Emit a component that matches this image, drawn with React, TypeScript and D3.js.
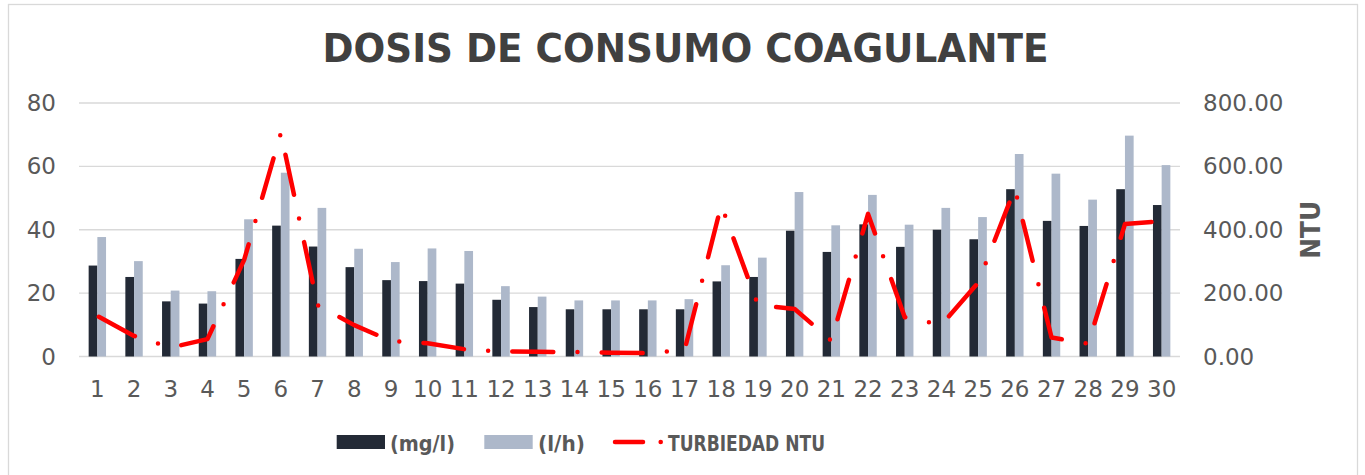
import React from "react";
import * as d3 from "d3";

const categories = Array.from({ length: 30 }, (_, i) => String(i + 1));
const mgL = [28.7, 25.1, 17.4, 16.7, 30.8, 41.3, 34.7, 28.2, 24.1, 23.8, 23.0, 17.9, 15.6, 14.9, 14.9, 14.9, 14.9, 23.7, 25.1, 39.7, 33.0, 41.7, 34.6, 40.0, 37.0, 52.8, 42.8, 41.2, 52.8, 47.8];
const lH = [37.7, 30.1, 20.8, 20.6, 43.3, 58.0, 46.9, 34.0, 29.8, 34.1, 33.3, 22.2, 18.9, 17.7, 17.7, 17.7, 18.1, 28.8, 31.2, 51.9, 41.4, 51.0, 41.6, 46.9, 44.0, 63.9, 57.7, 49.5, 69.7, 60.4];
const turbiedad = [128, 65, 28, 55, 305, 705, 162, 99, 49, 42, 23, 16, 15, 14, 12, 11, 20, 478, 162, 150, 50, 450, 124, 100, 233, 530, 60, 40, 418, 427];
const leftTicks = [0, 20, 40, 60, 80];
const rightTicks = [0, 200, 400, 600, 800];
const seriesNames = ["(mg/l)", "(l/h)", "TURBIEDAD NTU"];

const W = 1365;
const H = 475;
const plot = { left: 79, right: 1180, top: 103, bottom: 356.5 };
const DARK = "#232a36";
const LIGHT = "#adb8ca";
const RED = "#ff0000";
const GRID = "#d9d9d9";
const TEXT = "#595959";
const FONT = "'DejaVu Sans', Verdana, sans-serif";

export default function App() {
  const p = 0.526;
  const x = d3.scaleBand<string>().domain(categories).range([plot.left, plot.right]).paddingInner(p).paddingOuter(p / 2);
  const x1 = d3.scaleBand<string>().domain(["a", "b"]).range([0, x.bandwidth()]);
  const yL = d3.scaleLinear().domain([0, 80]).range([plot.bottom, plot.top]);
  const yR = d3.scaleLinear().domain([0, 800]).range([plot.bottom, plot.top]);
  const cx = (c: string) => (x(c) as number) + x.bandwidth() / 2;
  const linePath = d3.line<number>().x((_, i) => cx(categories[i])).y((d) => yR(d))(turbiedad) as string;
  const dash = "41 24.2 0 24.2";

  return (
    <svg width={W} height={H} style={{ position: "absolute", left: 0, top: 0, background: "#fff" }} fontFamily={FONT}>
      <rect x={8.5} y={4.5} width={1349} height={500} fill="#fff" stroke={GRID} strokeWidth={1.3} />
      <text x={685.5} y={62} textAnchor="middle" fontSize={39} fontWeight="bold" fill="#404040" textLength={726} lengthAdjust="spacingAndGlyphs">
        DOSIS DE CONSUMO COAGULANTE
      </text>
      {leftTicks.map((t) => (
        <line key={"g" + t} x1={plot.left} x2={plot.right} y1={yL(t)} y2={yL(t)} stroke={GRID} strokeWidth={1.3} />
      ))}
      {leftTicks.map((t) => (
        <text key={"l" + t} x={56} y={yL(t) + 8} textAnchor="end" fontSize={23} fill={TEXT}>
          {t}
        </text>
      ))}
      {rightTicks.map((t) => (
        <text key={"r" + t} x={1203} y={yR(t) + 8} textAnchor="start" fontSize={23} fill={TEXT}>
          {t.toFixed(2)}
        </text>
      ))}
      <text transform={`translate(1320,${(plot.top + plot.bottom) / 2}) rotate(-90)`} textAnchor="middle" fontSize={26} fontWeight="bold" fill={TEXT} textLength={58} lengthAdjust="spacingAndGlyphs">
        NTU
      </text>
      {categories.map((c, i) => (
        <g key={"b" + c}>
          <rect x={(x(c) as number) + (x1("a") as number)} y={yL(mgL[i])} width={x1.bandwidth()} height={plot.bottom - yL(mgL[i])} fill={DARK} />
          <rect x={(x(c) as number) + (x1("b") as number)} y={yL(lH[i])} width={x1.bandwidth()} height={plot.bottom - yL(lH[i])} fill={LIGHT} />
          <text x={cx(c)} y={396.5} textAnchor="middle" fontSize={23} fill={TEXT}>
            {c}
          </text>
        </g>
      ))}
      <path d={linePath} fill="none" stroke={RED} strokeWidth={4.5} strokeLinecap="round" strokeLinejoin="round" strokeDasharray={dash} strokeDashoffset={87.7} />
      <g>
        <rect x={336.7} y={435} width={48.3} height={14} fill={DARK} />
        <text x={390} y={450.7} fontSize={22} fontWeight="bold" fill={TEXT} textLength={65} lengthAdjust="spacingAndGlyphs">
          {seriesNames[0]}
        </text>
        <rect x={484.3} y={435} width={48.4} height={14} fill={LIGHT} />
        <text x={538} y={450.7} fontSize={22} fontWeight="bold" fill={TEXT} textLength={47} lengthAdjust="spacingAndGlyphs">
          {seriesNames[1]}
        </text>
        <line x1={615} x2={643} y1={442} y2={442} stroke={RED} strokeWidth={4.5} strokeLinecap="round" />
        <circle cx={660.7} cy={442} r={2.3} fill={RED} />
        <text x={668} y={450.7} fontSize={22} fontWeight="bold" fill={TEXT} textLength={157} lengthAdjust="spacingAndGlyphs">
          {seriesNames[2]}
        </text>
      </g>
    </svg>
  );
}
